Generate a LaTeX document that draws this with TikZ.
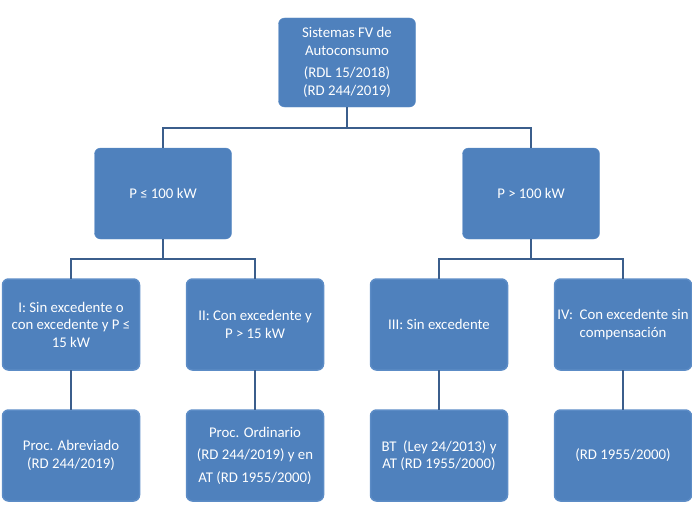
\documentclass[tikz,border=0pt]{standalone}
\usepackage{fontspec}
\setmainfont{Carlito}
\usepackage{xcolor}
\usepackage{tikz}
\usetikzlibrary{trees}

\definecolor{boxblue}{RGB}{79,129,189}
\definecolor{boxedge}{RGB}{92,140,198}
\definecolor{linkblue}{RGB}{59,94,140}

\begin{document}
\begin{tikzpicture}[level distance=131pt,
      level 1/.style={sibling distance=368pt},
      level 2/.style={sibling distance=184pt},
      every node/.style={draw=boxedge, fill=boxblue, text=white, rounded corners=6pt,
        minimum width=137pt, minimum height=91pt, inner sep=0pt, align=center,
        font=\fontsize{14.8}{17.5}\selectfont},
      edge from parent/.style={draw=linkblue, line width=1.5pt, edge from parent fork down}]
    \useasboundingbox (0,0) rectangle (692pt,-519pt);
    \node (sfv) at (347pt,-62.5pt) [minimum height=89pt]
      {Sistemas FV de\\Autoconsumo\\[5pt](RDL 15/2018)\\(RD 244/2019)}
    child{node (pmen) {P ≤ 100 kW}
      child{node (tipoI) {I: Sin excedente o\\con excedente y P ≤\\15 kW}
        child{node (abrev) {Proc. Abreviado\\(RD 244/2019)}}
      }
      child{node (tipoII) {II: Con excedente y\\P > 15 kW}
        child{node (ordin) {Proc. Ordinario\\[5pt](RD 244/2019) y en\\[5pt]AT (RD 1955/2000)}}
      }
    }
    child{node (pmay) {P > 100 kW}
      child{node (tipoIII) {III: Sin excedente}
        child{node (btat) {BT~~(Ley 24/2013) y\\AT (RD 1955/2000)}}
      }
      child{node (tipoIV) {IV:~~Con excedente sin\\compensación}
        child{node (rd1955) {(RD 1955/2000)}}
      }
    };
  \end{tikzpicture}
\end{document}
